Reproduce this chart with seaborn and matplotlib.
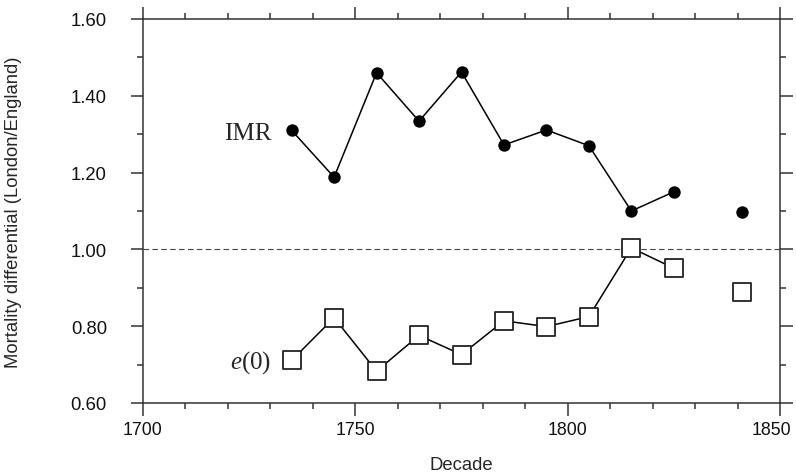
import numpy as np
import pandas as pd
import matplotlib
matplotlib.use("Agg")
import matplotlib.pyplot as plt
from matplotlib.ticker import MultipleLocator, FormatStrFormatter
from matplotlib.transforms import ScaledTranslation
import seaborn as sns

# Data
decades = [1735, 1745, 1755, 1765, 1775, 1785, 1795, 1805, 1815, 1825, 1841]
imr = [1.310, 1.188, 1.460, 1.334, 1.462, 1.272, 1.311, 1.270, 1.100, 1.150, 1.097]
e0 = [0.711, 0.822, 0.683, 0.776, 0.726, 0.814, 0.799, 0.825, 1.004, 0.951, 0.890]
n_connected = 10  # last point (1841) is not joined to the line

x_ticks = [1700, 1750, 1800, 1850]
y_ticks = [0.60, 0.80, 1.00, 1.20, 1.40, 1.60]

df = pd.DataFrame({"decade": decades, "IMR": imr, "e0": e0})
df_line = df.iloc[:n_connected]

sns.set_style("ticks")
plt.rcParams["font.family"] = ["Liberation Sans", "DejaVu Sans"]
plt.rcParams["mathtext.fontset"] = "custom"
plt.rcParams["mathtext.rm"] = "Liberation Serif"
plt.rcParams["mathtext.it"] = "Liberation Serif:italic"

fig = plt.figure(figsize=(7.96, 4.77), dpi=100)
ax = fig.add_axes([143 / 796, 1 - 404 / 477, (780 - 143) / 796, (404 - 20) / 477])

ax.axhline(1.0, color="#444444", lw=0.8, ls=(0, (5, 3)), zorder=1)

sns.lineplot(data=df_line, x="decade", y="IMR", color="black", lw=1.1, ax=ax,
             zorder=2, legend=False)
sns.lineplot(data=df_line, x="decade", y="e0", color="black", lw=1.1, ax=ax,
             zorder=2, legend=False)
sns.scatterplot(data=df, x="decade", y="IMR", color="black", marker="o", s=80,
                edgecolor="black", linewidth=0, ax=ax, zorder=3, legend=False)
sns.scatterplot(data=df, x="decade", y="e0", color="white", marker="s", s=175,
                edgecolor="#222222", linewidth=1.3, ax=ax, zorder=3, legend=False)

ax.text(1730.2, 1.303, "IMR", family=["Liberation Serif", "DejaVu Serif"],
        fontsize=18, ha="right", va="center")
ax.text(1730.2, 0.707, r"$e$(0)", family=["Liberation Serif", "DejaVu Serif"],
        fontsize=18, ha="right", va="center")

ax.set_xlim(1700, 1850)
ax.set_ylim(0.60, 1.60)
ax.set_xticks(x_ticks)
ax.set_yticks(y_ticks)
ax.xaxis.set_minor_locator(MultipleLocator(10))
ax.yaxis.set_minor_locator(MultipleLocator(0.1))
ax.yaxis.set_major_formatter(FormatStrFormatter("%.2f"))

for sp in ax.spines.values():
    sp.set_visible(True)
    sp.set_color("#333333")
    sp.set_linewidth(1.1)

ax.tick_params(which="both", direction="out", top=True, right=True,
               labeltop=False, labelright=False, color="#333333", width=1.1)
ax.tick_params(which="major", length=9)
ax.tick_params(which="minor", length=4.5)
ax.tick_params(axis="y", which="major", pad=17, labelsize=13.3, labelcolor="#111111")
ax.tick_params(axis="x", which="major", pad=4, labelsize=12.8, labelcolor="#111111")

ax.set_xlabel("Decade", fontsize=13.3)
ax.set_ylabel("Mortality differential (London/England)", fontsize=13.3)
ax.xaxis.set_label_coords(0.5, (404 - 457) / 384)
ax.yaxis.set_label_coords((22 - 143) / 637, 0.5)

# nudge the last x tick label so it stays inside the figure, as in the reference
last = ax.xaxis.get_major_ticks()[-1].label1
last.set_transform(last.get_transform() + ScaledTranslation(-6 / 72, 0, fig.dpi_scale_trans))

fig.savefig("out.png", dpi=100, facecolor="white")
